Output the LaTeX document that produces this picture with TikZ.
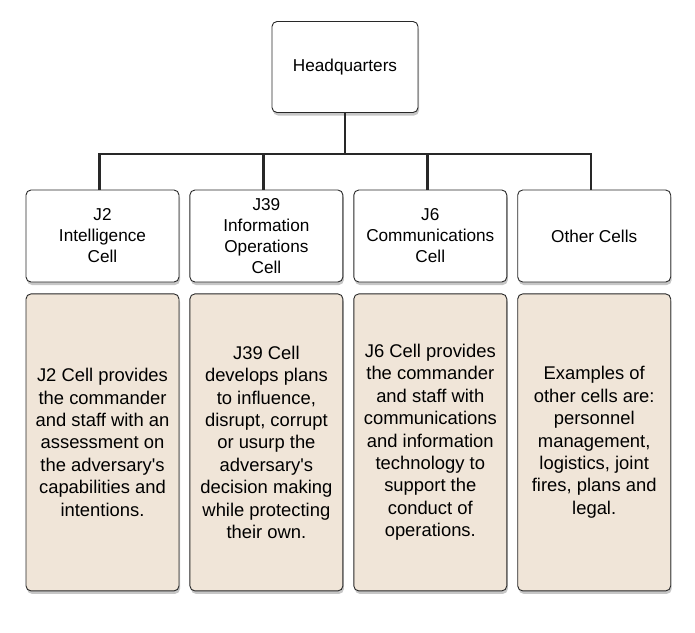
\documentclass[tikz,border=0pt]{standalone}
\usepackage{fontspec}
\setmainfont{Liberation Sans}
\usetikzlibrary{positioning,shadows}
\definecolor{cellbeige}{RGB}{240,229,216}
\definecolor{cellline}{RGB}{40,40,40}

\begin{document}
\begin{tikzpicture}[
        x=1pt, y=-1pt,
        node distance=10pt,
        box/.style={
            rectangle,
            draw=cellline,
            line width=0.9pt,
            rounded corners=5pt,
            align=center,
            fill=white,
            drop shadow={shadow xshift=1pt, shadow yshift=-3pt, opacity=0.45},
            font=\fontsize{17.2}{21}\selectfont
        },
        head/.style={box, minimum width=146pt, minimum height=91pt},
        cell/.style={box, minimum width=153pt, minimum height=92pt},
        desc/.style={box, fill=cellbeige, minimum width=153pt, minimum height=297pt,
            font=\fontsize{18.4}{22.4}\selectfont},
        link/.style={line width=2.4pt, draw=cellline}
    ]
    \useasboundingbox (0,0) rectangle (695,632);

    % TOP: HEADQUARTERS
    \node[head] (hq) at (345,67) {Headquarters};
    \coordinate (bus) at (345,154);

    % CELL TITLES
    \node[cell] (j2) at (102.5,236) {J2\\Intelligence\\Cell};
    \node[cell, right=of j2] (j39) {J39\\Information\\Operations\\Cell};
    \node[cell, right=of j39] (j6) {J6\\Communications\\Cell};
    \node[cell, right=of j6] (other) {Other Cells};

    % CELL DESCRIPTIONS
    \node[desc, below=11pt of j2] (j2desc) {J2 Cell provides\\the commander\\and staff with an\\assessment on\\the adversary\textquotesingle s\\capabilities and\\intentions.};
    \node[desc, below=11pt of j39] (j39desc) {J39 Cell\\develops plans\\to influence,\\disrupt, corrupt\\or usurp the\\adversary\textquotesingle s\\decision making\\while protecting\\their own.};
    \node[desc, below=11pt of j6] (j6desc) {J6 Cell provides\\the commander\\and staff with\\communications\\and information\\technology to\\support the\\conduct of\\operations.};
    \node[desc, below=11pt of other] (otherdesc) {Examples of\\other cells are:\\personnel\\management,\\logistics, joint\\fires, plans and\\legal.};

    % CONNECTIONS
    \coordinate (j2top) at ([xshift=-3pt]j2.north);
    \coordinate (j39top) at ([xshift=-3pt]j39.north);
    \coordinate (j6top) at ([xshift=-3pt]j6.north);
    \coordinate (othertop) at ([xshift=-3pt]other.north);
    \draw[link] (hq.south) -- (bus);
    \draw[link] (j2top) |- (bus) -| (othertop);
    \draw[link] (j39top) -- (j39top |- bus);
    \draw[link] (j6top) -- (j6top |- bus);

\end{tikzpicture}
\end{document}
